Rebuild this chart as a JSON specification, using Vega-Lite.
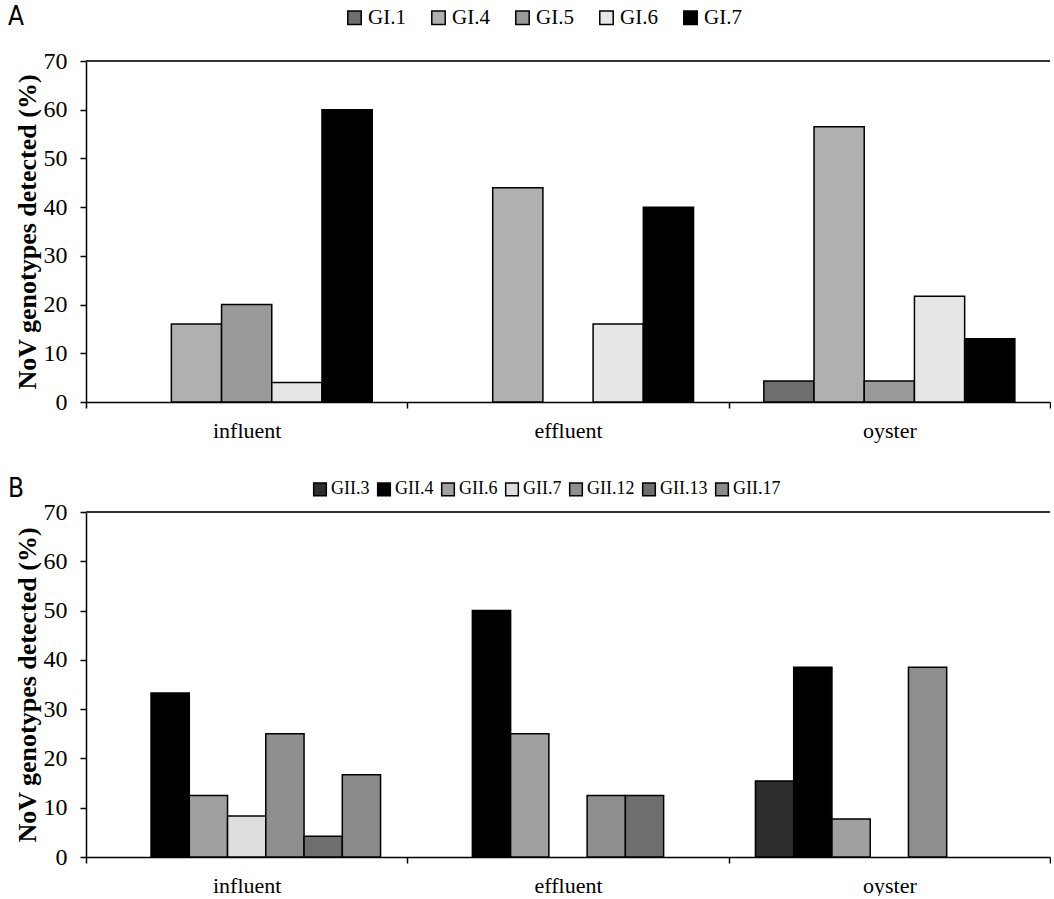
{
  "$schema": "https://vega.github.io/schema/vega-lite/v6.json",
  "padding": {"left": 8, "top": 7, "right": 0, "bottom": 0},
  "background": "white",
  "config": {
    "font": "Liberation Serif",
    "view": {"stroke": null},
    "axis": {"domainColor": "black", "domainWidth": 1.5, "tickColor": "black", "tickWidth": 1.5, "tickSize": 6, "labelColor": "black", "titleColor": "black", "labelFont": "Liberation Serif", "titleFont": "Liberation Serif", "grid": false}
  },
  "spacing": 39,
  "resolve": {
    "scale": {"x": "independent", "y": "independent", "xOffset": "independent", "fill": "independent"},
    "legend": {"fill": "independent"}
  },
  "vconcat": [
    {
      "width": 964,
      "height": 341,
      "data": {"values": [
        {"site": "influent", "genotype": "GI.4", "pct": 16},
        {"site": "influent", "genotype": "GI.5", "pct": 20},
        {"site": "influent", "genotype": "GI.6", "pct": 4},
        {"site": "influent", "genotype": "GI.7", "pct": 60},
        {"site": "effluent", "genotype": "GI.4", "pct": 44},
        {"site": "effluent", "genotype": "GI.6", "pct": 16},
        {"site": "effluent", "genotype": "GI.7", "pct": 40},
        {"site": "oyster", "genotype": "GI.1", "pct": 4.3},
        {"site": "oyster", "genotype": "GI.4", "pct": 56.5},
        {"site": "oyster", "genotype": "GI.5", "pct": 4.3},
        {"site": "oyster", "genotype": "GI.6", "pct": 21.7},
        {"site": "oyster", "genotype": "GI.7", "pct": 13}
      ]},
      "layer": [
        {
          "data": {"values": [{"v": 70}]},
          "mark": {"type": "rule", "color": "#333333", "strokeWidth": 2},
          "encoding": {"y": {"field": "v", "type": "quantitative"}}
        },
        {
          "mark": {"type": "bar", "stroke": "black", "strokeWidth": 1.5},
          "encoding": {
            "x": {"field": "site", "type": "nominal", "sort": ["influent", "effluent", "oyster"],
              "scale": {"paddingInner": 0, "paddingOuter": 0},
              "axis": {"title": null, "labelAngle": 0, "tickBand": "extent", "labelFontSize": 22, "labelPadding": 12}},
            "xOffset": {"field": "genotype", "type": "nominal",
              "scale": {"domain": ["GI.1", "GI.4", "GI.5", "GI.6", "GI.7"], "paddingOuter": 0.7, "paddingInner": 0}},
            "y": {"field": "pct", "type": "quantitative",
              "scale": {"domain": [0, 70], "nice": false},
              "axis": {"values": [0, 10, 20, 30, 40, 50, 60, 70], "title": "NoV genotypes detected (%)", "titleFontWeight": "bold", "titleFontSize": 26, "titlePadding": 3, "labelFontSize": 24, "labelPadding": 13}},
            "fill": {"field": "genotype", "type": "nominal",
              "scale": {"domain": ["GI.1", "GI.4", "GI.5", "GI.6", "GI.7"], "range": ["#6e6e6e", "#b0b0b0", "#9a9a9a", "#e6e6e6", "#000000"]},
              "legend": {"orient": "none", "legendX": -78, "legendY": -54, "direction": "horizontal",
                "title": "A", "titleOrient": "left", "titleFont": "DejaVu Sans Condensed, Liberation Sans Narrow, Roboto", "titleFontSize": 26, "titleFontWeight": "normal", "titleColor": "black", "titlePadding": 320,
                "symbolType": "square", "symbolSize": 180, "symbolStrokeColor": "black", "symbolStrokeWidth": 1.5, "symbolOpacity": 1,
                "labelFont": "Liberation Serif", "labelFontSize": 21, "labelColor": "black", "labelOffset": 3, "columnPadding": 22}}
          }
        }
      ]
    },
    {
      "width": 964,
      "height": 345,
      "data": {"values": [
        {"site": "influent", "genotype": "GII.4", "pct": 33.3},
        {"site": "influent", "genotype": "GII.6", "pct": 12.5},
        {"site": "influent", "genotype": "GII.7", "pct": 8.3},
        {"site": "influent", "genotype": "GII.12", "pct": 25},
        {"site": "influent", "genotype": "GII.13", "pct": 4.2},
        {"site": "influent", "genotype": "GII.17", "pct": 16.7},
        {"site": "effluent", "genotype": "GII.4", "pct": 50},
        {"site": "effluent", "genotype": "GII.6", "pct": 25},
        {"site": "effluent", "genotype": "GII.12", "pct": 12.5},
        {"site": "effluent", "genotype": "GII.13", "pct": 12.5},
        {"site": "oyster", "genotype": "GII.3", "pct": 15.4},
        {"site": "oyster", "genotype": "GII.4", "pct": 38.5},
        {"site": "oyster", "genotype": "GII.6", "pct": 7.7},
        {"site": "oyster", "genotype": "GII.12", "pct": 38.5}
      ]},
      "layer": [
        {
          "data": {"values": [{"v": 70}]},
          "mark": {"type": "rule", "color": "#333333", "strokeWidth": 2},
          "encoding": {"y": {"field": "v", "type": "quantitative"}}
        },
        {
          "mark": {"type": "bar", "stroke": "black", "strokeWidth": 1.5},
          "encoding": {
            "x": {"field": "site", "type": "nominal", "sort": ["influent", "effluent", "oyster"],
              "scale": {"paddingInner": 0, "paddingOuter": 0},
              "axis": {"title": null, "labelAngle": 0, "tickBand": "extent", "labelFontSize": 22, "labelPadding": 12}},
            "xOffset": {"field": "genotype", "type": "nominal",
              "scale": {"domain": ["GII.3", "GII.4", "GII.6", "GII.7", "GII.12", "GII.13", "GII.17"], "paddingOuter": 0.7, "paddingInner": 0}},
            "y": {"field": "pct", "type": "quantitative",
              "scale": {"domain": [0, 70], "nice": false},
              "axis": {"values": [0, 10, 20, 30, 40, 50, 60, 70], "title": "NoV genotypes detected (%)", "titleFontWeight": "bold", "titleFontSize": 26, "titlePadding": 3, "labelFontSize": 24, "labelPadding": 13}},
            "fill": {"field": "genotype", "type": "nominal",
              "scale": {"domain": ["GII.3", "GII.4", "GII.6", "GII.7", "GII.12", "GII.13", "GII.17"], "range": ["#2e2e2e", "#000000", "#a0a0a0", "#dddddd", "#8e8e8e", "#6e6e6e", "#8a8a8a"]},
              "legend": {"orient": "none", "legendX": -78, "legendY": -32, "direction": "horizontal",
                "title": "B", "titleOrient": "left", "titleFont": "DejaVu Sans Condensed, Liberation Sans Narrow, Roboto", "titleFontSize": 26, "titleFontWeight": "normal", "titleColor": "black", "titlePadding": 286,
                "symbolType": "square", "symbolSize": 160, "symbolStrokeColor": "black", "symbolStrokeWidth": 1.5, "symbolOpacity": 1,
                "labelFont": "Liberation Serif", "labelFontSize": 18, "labelColor": "black", "labelOffset": 2, "columnPadding": 4}}
          }
        }
      ]
    }
  ]
}
